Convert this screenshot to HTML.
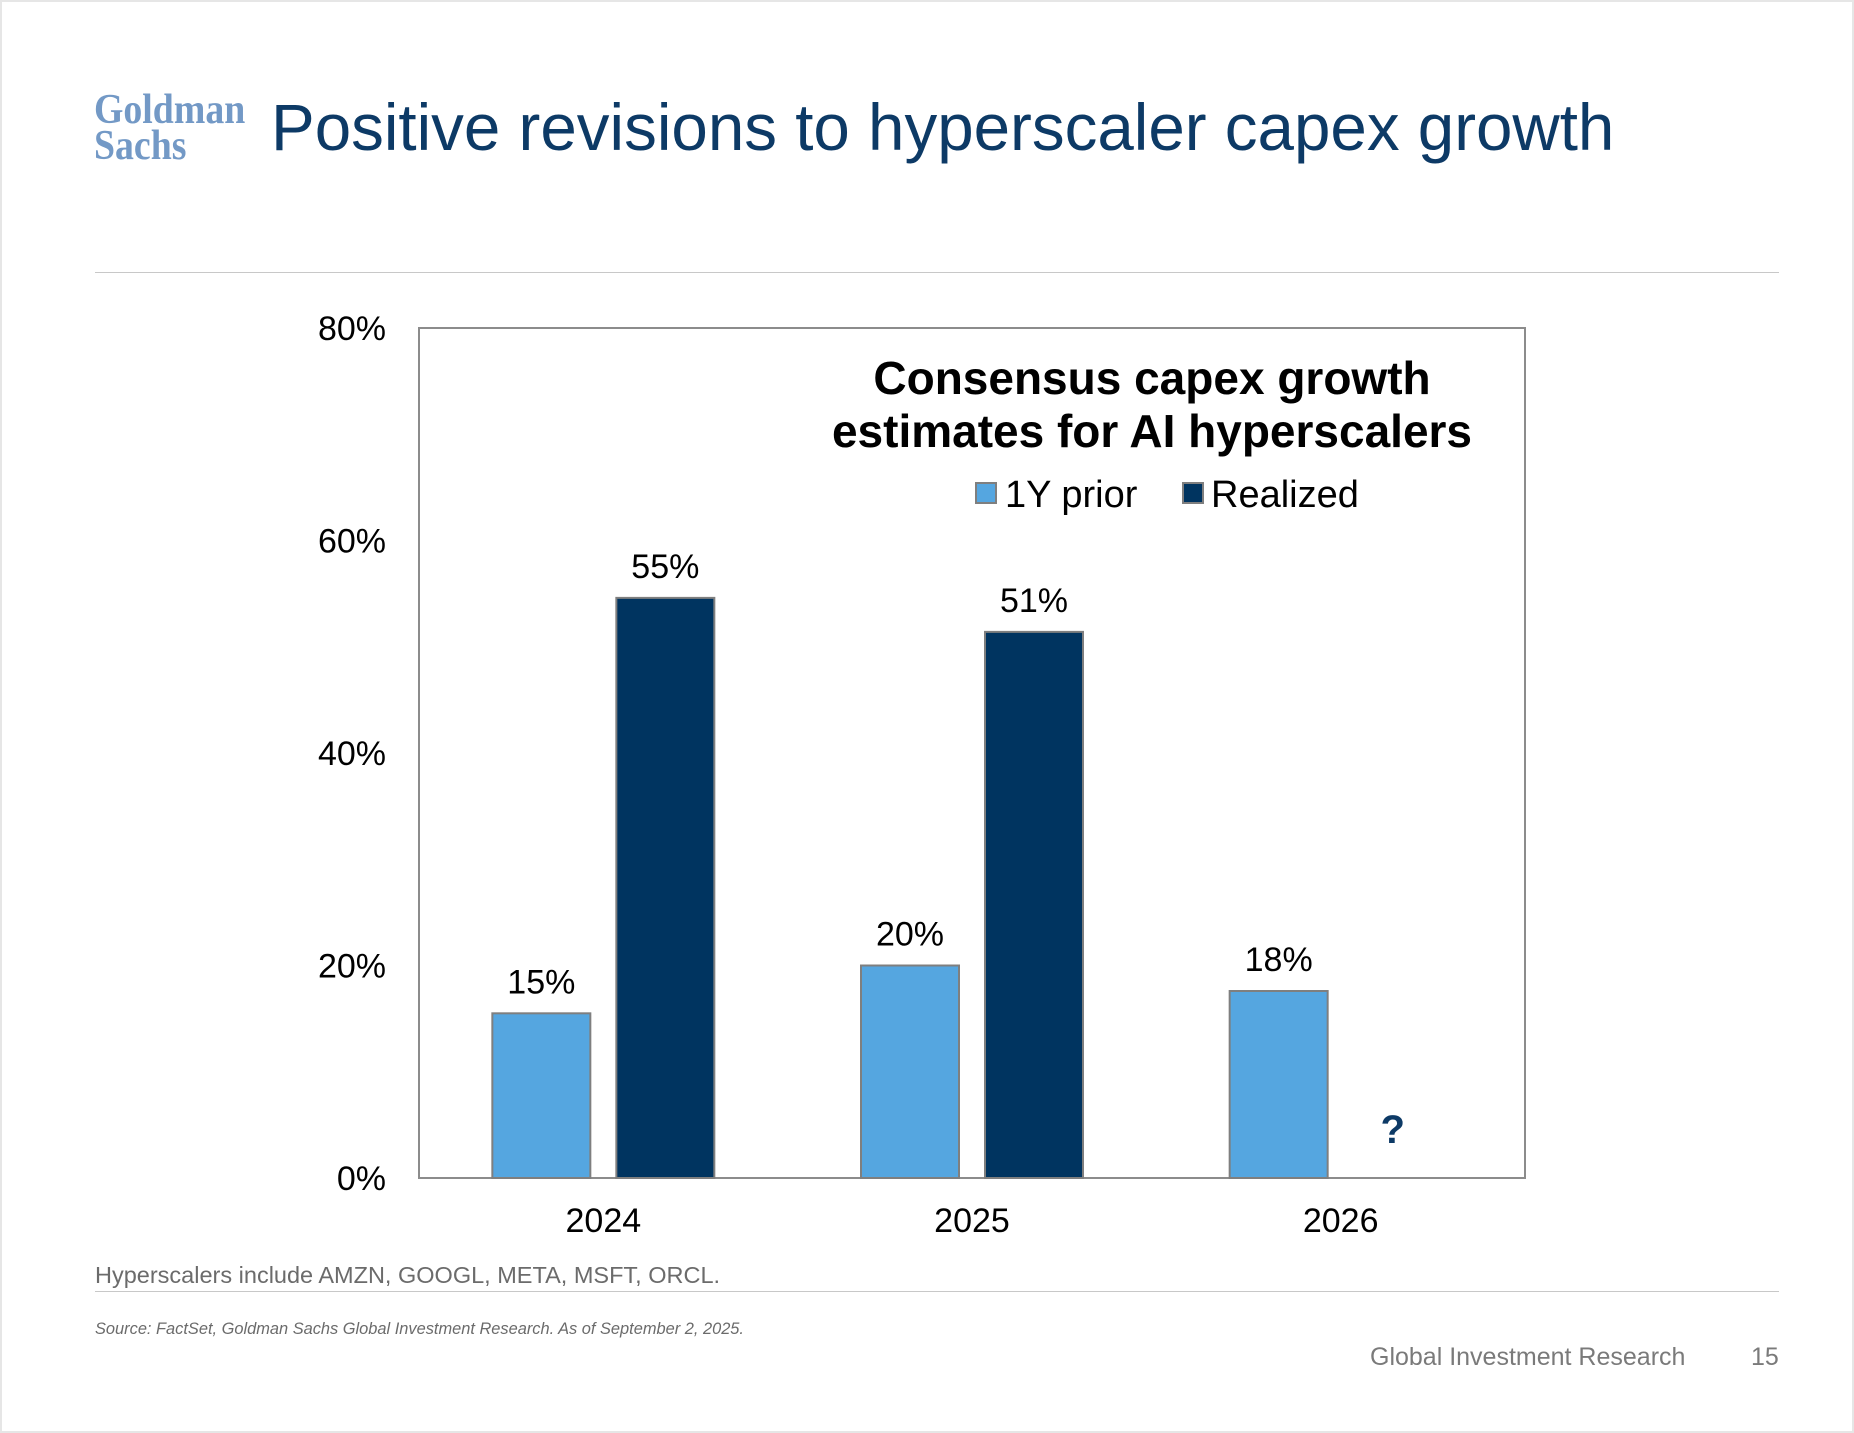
<!DOCTYPE html>
<html><head><meta charset="utf-8"><style>
body{margin:0;background:#fff;}
#page{position:relative;width:1854px;height:1433px;overflow:hidden;background:#fff;font-family:"Liberation Sans",Arial,sans-serif;box-shadow:inset 0 0 0 2px #e6e6e6;}
.abs{position:absolute;white-space:nowrap;}
</style></head><body>
<div id="page">
<div class="abs" style="left:94px;top:92px;font-family:'Liberation Serif',serif;font-weight:bold;font-size:42px;line-height:36px;color:#7399c6;transform:scaleX(0.9);transform-origin:left top;">Goldman<br>Sachs</div>
<div class="abs" style="left:271px;top:90px;font-size:65.5px;color:#0d3a66;">Positive revisions to hyperscaler capex growth</div>
<div class="abs" style="left:95px;top:272px;width:1684px;height:1px;background:#c8c8c8;"></div>
<svg class="abs" style="left:0;top:0" width="1854" height="1433">
<g id="g"></g>
</svg>
<div class="abs" style="left:95px;top:1262px;font-size:23.5px;color:#6b6b6b;">Hyperscalers include AMZN, GOOGL, META, MSFT, ORCL.</div>
<div class="abs" style="left:95px;top:1291px;width:1684px;height:1px;background:#c8c8c8;"></div>
<div class="abs" style="left:95px;top:1320px;font-size:16.4px;font-style:italic;color:#6b6b6b;">Source: FactSet, Goldman Sachs Global Investment Research. As of September 2, 2025.</div>
<div class="abs" style="left:1370px;top:1343px;font-size:25px;color:#7a7a7a;">Global Investment Research</div>
<div class="abs" style="left:1751px;top:1343px;font-size:25px;color:#7a7a7a;">15</div>
</div>
<script>
const categories=["2024","2025","2026"];
const priorValues=[15.5,20.0,17.6];
const realizedValues=[54.6,51.4,null];
const priorLabels=["15%","20%","18%"];
const realizedLabels=["55%","51%","?"];
const yTicks=[0,20,40,60,80];
const tickLabels=["0%","20%","40%","60%","80%"];
const L=419,R=1525,T=328,B=1178,YMAX=80;
const y=v=>B-(v/YMAX)*(B-T);
const band=(R-L)/categories.length;
const cx=i=>L+band*(i+0.5);
const NS="http://www.w3.org/2000/svg";
const g=document.getElementById('g');
function mk(tag,attrs,txt){const e=document.createElementNS(NS,tag);for(const k in attrs)e.setAttribute(k,attrs[k]);if(txt!=null)e.textContent=txt;g.appendChild(e);return e;}
const F='"Liberation Sans",Arial,sans-serif';
let e=mk('rect',{x:L,y:T,width:R-L,height:B-T,fill:'none',stroke:'#8c8c8c','stroke-width':2});


yTicks.forEach((t,i)=>{const el=mk('text',{x:386,y:y(t)+12,'text-anchor':'end','font-family':F,'font-size':34,fill:'#000'},tickLabels[i]);

});
const bw=98,gap=26;
categories.forEach((c,i)=>{
 const el=mk('text',{x:cx(i),y:1232,'text-anchor':'middle','font-family':F,'font-size':34,fill:'#000'},c);
 
 
 const x1=cx(i)-gap/2-bw;
 const b1=mk('rect',{x:x1,y:y(priorValues[i]),width:bw,height:B-y(priorValues[i]),fill:'#55a6e0',stroke:'#7f7f7f','stroke-width':2});
 
 
 const l1=mk('text',{x:x1+bw/2,y:y(priorValues[i])-20,'text-anchor':'middle','font-family':F,'font-size':34,fill:'#000'},priorLabels[i]);
 
 
 const x2=cx(i)+gap/2;
 if(realizedValues[i]!=null){
  const b2=mk('rect',{x:x2,y:y(realizedValues[i]),width:bw,height:B-y(realizedValues[i]),fill:'#003460',stroke:'#7f7f7f','stroke-width':2});
  
  
  const l2=mk('text',{x:x2+bw/2,y:y(realizedValues[i])-20,'text-anchor':'middle','font-family':F,'font-size':34,fill:'#000'},realizedLabels[i]);
  
  
 } else {
  const q=mk('text',{x:x2+bw/2-10,y:1143,'text-anchor':'middle','font-family':F,'font-size':40,'font-weight':'bold',fill:'#0d3a66'},realizedLabels[i]);
  
  
 }
});
let t1=mk('text',{x:1152,y:394,'text-anchor':'middle','font-family':F,'font-size':46,'font-weight':'bold',fill:'#000'},'Consensus capex growth');


let t2=mk('text',{x:1152,y:447,'text-anchor':'middle','font-family':F,'font-size':46,'font-weight':'bold',fill:'#000'},'estimates for AI hyperscalers');


let s1=mk('rect',{x:976,y:483,width:20,height:20,fill:'#55a6e0',stroke:'#7f7f7f','stroke-width':2});


let lt1=mk('text',{x:1005,y:507,'font-family':F,'font-size':38,fill:'#000'},'1Y prior');


let s2=mk('rect',{x:1183,y:483,width:20,height:20,fill:'#003460',stroke:'#7f7f7f','stroke-width':2});


let lt2=mk('text',{x:1211,y:507,'font-family':F,'font-size':38,fill:'#000'},'Realized');


</script>
</body></html>
